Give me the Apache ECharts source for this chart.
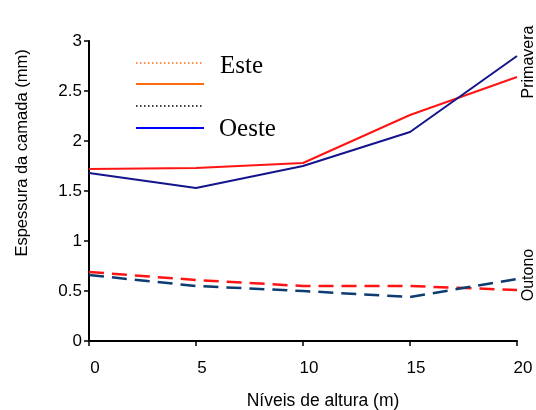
<!DOCTYPE html>
<html>
<head>
<meta charset="utf-8">
<script src="https://cdn.jsdelivr.net/npm/echarts@6/dist/echarts.min.js"></script>
<style>
  html, body { margin: 0; padding: 0; background: #fff; }
  #chart { width: 536px; height: 410px; }
</style>
</head>
<body>
<div id="chart"></div>
<script>
// Height levels (m)
const alturas = [0, 5, 10, 15, 20];
// Layer thickness (mm) – spring
const primaveraEste  = [1.72, 1.73, 1.78, 2.26, 2.64];
const primaveraOeste = [1.68, 1.53, 1.75, 2.09, 2.85];
// Layer thickness (mm) – autumn
const outonoEste  = [0.69, 0.61, 0.55, 0.55, 0.51];
const outonoOeste = [0.66, 0.55, 0.50, 0.44, 0.62];
const yTicks = [0, 0.5, 1, 1.5, 2, 2.5, 3];

const pairs = (xs, ys) => xs.map((x, i) => [x, ys[i]]);

const chart = echarts.init(document.getElementById('chart'), null, { renderer: 'canvas' });

const sans = 'Liberation Sans, Arial, sans-serif';
const serif = 'Liberation Serif, Times New Roman, serif';

function lineSeries(name, values, color, type, width) {
  return {
    name: name,
    type: 'line',
    data: pairs(alturas, values),
    symbol: 'none',
    animation: false,
    lineStyle: { color: color, width: width, type: type },
    z: 3
  };
}

chart.setOption({
  backgroundColor: '#ffffff',
  animation: false,
  grid: { left: 89, right: 19, top: 41, bottom: 69 },
  xAxis: {
    type: 'value',
    min: 0, max: 20, interval: 5,
    axisLine: { show: true, lineStyle: { color: '#000', width: 2 } },
    axisTick: { show: true, length: 5, lineStyle: { color: '#000', width: 1.5 } },
    axisLabel: { color: '#000', fontFamily: sans, fontSize: 17, margin: 19, padding: [0, 0, 0, 12] },
    splitLine: { show: false }
  },
  yAxis: {
    type: 'value',
    min: yTicks[0], max: yTicks[yTicks.length - 1], interval: 0.5,
    axisLine: { show: true, lineStyle: { color: '#000', width: 2 } },
    axisTick: { show: true, length: 5, lineStyle: { color: '#000', width: 1.5 } },
    axisLabel: { color: '#000', fontFamily: sans, fontSize: 17, margin: 7, padding: [4, 0, 0, 0] },
    splitLine: { show: false }
  },
  series: [
    lineSeries('Primavera Este', primaveraEste, '#ff1414', 'solid', 2),
    lineSeries('Primavera Oeste', primaveraOeste, '#14148c', 'solid', 2),
    lineSeries('Outono Este', outonoEste, '#ff1414', [15, 8], 2.5),
    lineSeries('Outono Oeste', outonoOeste, '#0c3c70', [15, 8], 2.5)
  ],
  graphic: [
    // legend samples
    { type: 'line', shape: { x1: 136, y1: 63, x2: 204, y2: 63 },
      style: { stroke: '#ff6a10', lineWidth: 1.5, lineDash: [1.5, 2.5] } },
    { type: 'line', shape: { x1: 136, y1: 84, x2: 204, y2: 84 },
      style: { stroke: '#ff6a10', lineWidth: 2 } },
    { type: 'line', shape: { x1: 136, y1: 106, x2: 204, y2: 106 },
      style: { stroke: '#000', lineWidth: 1.5, lineDash: [1.5, 2.5] } },
    { type: 'line', shape: { x1: 136, y1: 128, x2: 204, y2: 128 },
      style: { stroke: '#0000ff', lineWidth: 2 } },
    { type: 'text', left: 220, top: 54,
      style: { text: 'Este', font: '25px ' + serif, fill: '#000' } },
    { type: 'text', left: 219, top: 117,
      style: { text: 'Oeste', font: '25px ' + serif, fill: '#000' } },
    // axis titles
    { type: 'text', x: 22, y: 153, rotation: Math.PI / 2,
      style: { text: 'Espessura da camada (mm)', font: '16.5px ' + sans, fill: '#000',
               textAlign: 'center', textVerticalAlign: 'middle' } },
    { type: 'text', x: 323, y: 401,
      style: { text: 'Níveis de altura (m)', font: '17.5px ' + sans, fill: '#000',
               textAlign: 'center', textVerticalAlign: 'middle' } },
    // season labels
    { type: 'text', x: 529, y: 62, rotation: Math.PI / 2,
      style: { text: 'Primavera', font: '16px ' + sans, fill: '#000',
               textAlign: 'center', textVerticalAlign: 'middle' } },
    { type: 'text', x: 529, y: 275, rotation: Math.PI / 2,
      style: { text: 'Outono', font: '16px ' + sans, fill: '#000',
               textAlign: 'center', textVerticalAlign: 'middle' } }
  ]
});
</script>
</body>
</html>
